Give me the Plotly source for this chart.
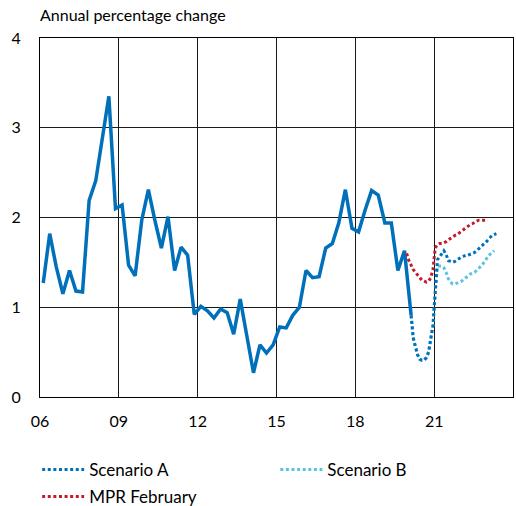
import pandas as pd
import plotly.graph_objects as go

# CPI inflation, quarterly outcomes from 2006 Q1 (annual percentage change)
outcome_start = "2006-01-01"
outcome = [
    1.27, 1.82, 1.45, 1.15, 1.41, 1.18, 1.17, 2.19,
    2.41, 2.90, 3.35, 2.10, 2.14, 1.47, 1.35, 1.97,
    2.31, 1.97, 1.66, 2.01, 1.41, 1.67, 1.58, 0.92,
    1.01, 0.96, 0.88, 0.98, 0.94, 0.70, 1.09, 0.68,
    0.27, 0.58, 0.49, 0.58, 0.78, 0.77, 0.91, 1.00,
    1.41, 1.33, 1.34, 1.66, 1.71, 1.94, 2.31, 1.88,
    1.84, 2.08, 2.30, 2.25, 1.94, 1.94, 1.41, 1.63,
    0.91,
]

# Monthly forecast paths
scenario_start = "2020-02-01"
scenario_a = [
    0.91, 0.66, 0.56, 0.47, 0.42, 0.41, 0.41, 0.44, 0.50, 0.63,
    0.80, 1.17, 1.53, 1.56, 1.60, 1.63, 1.59, 1.52, 1.51, 1.50,
    1.51, 1.53, 1.55, 1.56, 1.57, 1.58, 1.58, 1.59, 1.60, 1.61,
    1.63, 1.65, 1.67, 1.70, 1.72, 1.75, 1.78, 1.80, 1.81, 1.82,
]
scenario_b = [
    0.91, 0.66, 0.56, 0.47, 0.42, 0.41, 0.41, 0.44, 0.50, 0.63,
    0.80, 1.15, 1.45, 1.46, 1.46, 1.44, 1.39, 1.32, 1.28, 1.26,
    1.26, 1.27, 1.28, 1.29, 1.31, 1.33, 1.35, 1.37, 1.38, 1.39,
    1.41, 1.43, 1.46, 1.49, 1.53, 1.56, 1.59, 1.61, 1.63,
]
mpr_start = "2019-12-01"
mpr_february = [
    1.60, 1.52, 1.47, 1.42, 1.39, 1.36, 1.33, 1.30, 1.29, 1.28,
    1.29, 1.33, 1.42, 1.66, 1.70, 1.71, 1.71, 1.72, 1.73, 1.75,
    1.77, 1.78, 1.80, 1.81, 1.83, 1.85, 1.87, 1.89, 1.91, 1.92,
    1.93, 1.95, 1.96, 1.97, 1.97, 1.97, 1.97, 1.97,
]

y_ticks = [0, 1, 2, 3, 4]

BLUE = "#0070BA"
CYAN = "#5CC3DE"
RED = "#C21B2E"
FONT = "Lato"
DOTS = "3px,2.6px"


def quarterly_dates(start, n):
    return pd.date_range(start, periods=n, freq="QS") + pd.Timedelta(days=45)


def monthly_dates(start, n):
    return pd.date_range(start, periods=n, freq="MS") + pd.Timedelta(days=14)


fig = go.Figure()

fig.add_trace(go.Scatter(
    x=quarterly_dates(outcome_start, len(outcome)), y=outcome,
    mode="lines", line=dict(color=BLUE, width=3.5),
    showlegend=False, hoverinfo="skip",
))
fig.add_trace(go.Scatter(
    x=monthly_dates(mpr_start, len(mpr_february)), y=mpr_february,
    name="MPR February", mode="lines", legend="legend3",
    line=dict(color=RED, width=3, dash=DOTS),
))
fig.add_trace(go.Scatter(
    x=monthly_dates(scenario_start, len(scenario_b)), y=scenario_b,
    name="Scenario B", mode="lines", legend="legend2",
    line=dict(color=CYAN, width=3, dash=DOTS),
))
fig.add_trace(go.Scatter(
    x=monthly_dates(scenario_start, len(scenario_a)), y=scenario_a,
    name="Scenario A", mode="lines", legend="legend",
    line=dict(color=BLUE, width=3, dash=DOTS),
))

# one legend box per entry, laid out in two columns below the plot
legend_common = dict(
    orientation="h", xref="paper", yref="container",
    xanchor="left", yanchor="top", itemwidth=42,
    font=dict(family=FONT, size=17), bgcolor="rgba(0,0,0,0)",
)
row1, row2 = 1 - 452 / 506, 1 - 479 / 506
col1, col2 = -0.006, 0.4975

fig.update_layout(
    width=516, height=506,
    margin=dict(l=40, r=3, t=38, b=109),
    plot_bgcolor="white", paper_bgcolor="white",
    font=dict(family=FONT, size=16, color="#000000"),
    showlegend=True,
    legend=dict(legend_common, x=col1, y=row1),
    legend2=dict(legend_common, x=col2, y=row1),
    legend3=dict(legend_common, x=col1, y=row2),
    annotations=[dict(
        text="Annual percentage change", xref="paper", yref="paper",
        x=-0.005, y=1.0, xanchor="left", yanchor="bottom", yshift=12,
        showarrow=False, font=dict(family=FONT, size=16),
    )],
)

fig.update_xaxes(
    type="date", range=["2006-01-01", "2024-01-01"],
    tick0="2006-01-01", dtick="M36", tickformat="%y",
    showgrid=True, gridcolor="#1a1a1a", gridwidth=1,
    showline=True, linecolor="#000000", linewidth=1, mirror=True,
    ticks="", ticklabelstandoff=10, zeroline=False,
)
fig.update_yaxes(
    range=[0, 4], tickvals=y_ticks,
    showgrid=True, gridcolor="#1a1a1a", gridwidth=1,
    showline=True, linecolor="#000000", linewidth=1, mirror=True,
    ticks="", ticklabelstandoff=15, zeroline=False,
)

fig.write_html("out.html")
